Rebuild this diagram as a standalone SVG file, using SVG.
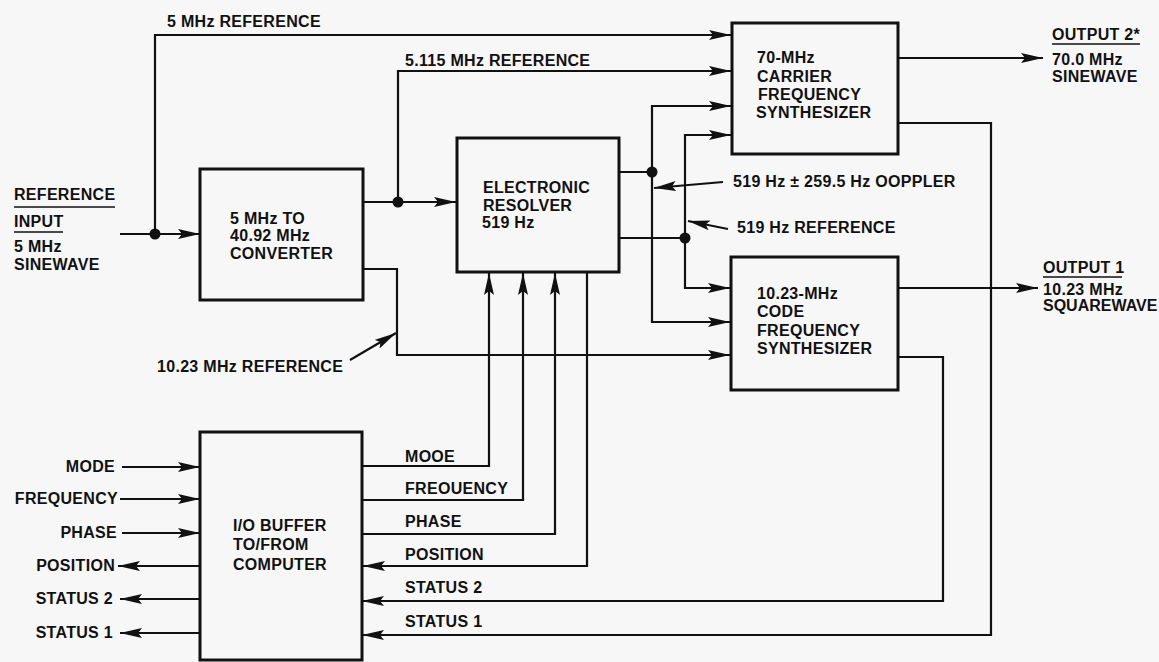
<svg xmlns="http://www.w3.org/2000/svg" width="1159" height="662" viewBox="0 0 1159 662">
<defs>
<style>
.bg{fill:#f7f7f7}
.box{fill:none;stroke:#111;stroke-width:3}
.c{fill:none;stroke:#111;stroke-width:2.2;marker-end:url(#ah)}
.n{fill:none;stroke:#111;stroke-width:2.2}
.dot{fill:#111}
text{font-family:"Liberation Sans",Arial,Helvetica,sans-serif;font-weight:bold;font-size:16px;fill:#111;letter-spacing:0.3px}
.ul{stroke:#111;stroke-width:1.5}
</style>
<marker id="ah" markerUnits="userSpaceOnUse" markerWidth="24" markerHeight="12" refX="22" refY="5" orient="auto">
<path d="M0,0 L22,5 L0,10 L4,5 Z" fill="#111"/>
</marker>
</defs>
<rect class="bg" x="0" y="0" width="1159" height="662"/>

<g id="converter">
<rect class="box" x="200" y="169" width="163" height="131"/>
<text x="230" y="224">5 MHz TO</text>
<text x="230" y="241">40.92 MHz</text>
<text x="230" y="259">CONVERTER</text>
</g>

<g id="resolver">
<rect class="box" x="457" y="138" width="162" height="134"/>
<text x="483" y="193">ELECTRONIC</text>
<text x="483" y="211">RESOLVER</text>
<text x="482" y="228">519 Hz</text>
</g>

<g id="carrier-synth">
<rect class="box" x="732" y="23" width="166" height="131"/>
<text x="757" y="63">70-MHz</text>
<text x="757" y="82">CARRIER</text>
<text x="758" y="100">FREQUENCY</text>
<text x="756" y="118">SYNTHESIZER</text>
</g>

<g id="code-synth">
<rect class="box" x="731" y="257" width="167" height="133"/>
<text x="757" y="299">10.23-MHz</text>
<text x="757" y="317">CODE</text>
<text x="757" y="336">FREQUENCY</text>
<text x="757" y="354">SYNTHESIZER</text>
</g>

<g id="io-buffer">
<rect class="box" x="200" y="432" width="162" height="228"/>
<text x="233" y="531">I/O BUFFER</text>
<text x="233" y="550">TO/FROM</text>
<text x="233" y="570">COMPUTER</text>
</g>

<g id="reference-input">
<text x="14" y="200">REFERENCE</text>
<line class="ul" x1="14" y1="207" x2="115" y2="207"/>
<text x="14" y="227">INPUT</text>
<line class="ul" x1="14" y1="232" x2="63" y2="232"/>
<text x="14" y="252">5 MHz</text>
<text x="14" y="270">SINEWAVE</text>
</g>

<g id="output-2">
<text x="1052" y="40">OUTPUT 2*</text>
<line class="ul" x1="1052" y1="44" x2="1140" y2="44"/>
<text x="1052" y="65">70.0 MHz</text>
<text x="1052" y="82">SINEWAVE</text>
</g>

<g id="output-1">
<text x="1043" y="273">OUTPUT 1</text>
<line class="ul" x1="1043" y1="277" x2="1122" y2="277"/>
<text x="1043" y="295">10.23 MHz</text>
<text x="1043" y="311" style="letter-spacing:0">SQUAREWAVE</text>
</g>

<g id="connectors">
<path class="c" d="M120,234 H200"/>
<path class="c" d="M155,234 V35 H731"/>
<path class="c" d="M363,202 H456"/>
<path class="c" d="M398,202 V71 H731"/>
<path class="n" d="M619,172 H652"/>
<path class="c" d="M652,172 V106 H731"/>
<path class="c" d="M652,172 V322 H730"/>
<path class="n" d="M619,238 H685"/>
<path class="c" d="M685,238 V135 H731"/>
<path class="c" d="M685,238 V288 H730"/>
<path class="c" d="M363,269 H397 V355 H730"/>
<path class="c" d="M898,58 H1043"/>
<path class="c" d="M898,288 H1038"/>
<path class="c" d="M898,123 H991 V635 H362"/>
<path class="c" d="M898,357 H943 V601 H362"/>
<path class="c" d="M362,466 H489 V273"/>
<path class="c" d="M362,500 H523 V273"/>
<path class="c" d="M362,534 H555 V273"/>
<path class="c" d="M587,272 V566 H363"/>
<path class="c" d="M122,467 H200"/>
<path class="c" d="M120,499 H200"/>
<path class="c" d="M122,533 H200"/>
<path class="c" d="M200,566 H118"/>
<path class="c" d="M200,599 H120"/>
<path class="c" d="M200,633 H120"/>
<path class="c" d="M723,182 L654,188"/>
<path class="c" d="M728,229 L688,221"/>
<path class="c" d="M350,360 L396,333"/>
<circle class="dot" cx="155" cy="234" r="5.5"/>
<circle class="dot" cx="398" cy="202" r="5.5"/>
<circle class="dot" cx="652" cy="172" r="5.5"/>
<circle class="dot" cx="685" cy="238" r="5.5"/>
</g>

<g id="labels">
<text x="167" y="27">5 MHz REFERENCE</text>
<text x="405" y="66">5.115 MHz REFERENCE</text>
<text x="733" y="187">519 Hz ± 259.5 Hz OOPPLER</text>
<text x="737" y="233">519 Hz REFERENCE</text>
<text x="157" y="372">10.23 MHz REFERENCE</text>
<text x="115" y="472" text-anchor="end">MODE</text>
<text x="118" y="504" text-anchor="end">FREQUENCY</text>
<text x="117" y="538" text-anchor="end">PHASE</text>
<text x="115" y="571" text-anchor="end">POSITION</text>
<text x="113" y="604" text-anchor="end">STATUS 2</text>
<text x="113" y="638" text-anchor="end">STATUS 1</text>
<text x="405" y="462">MOOE</text>
<text x="405" y="494">FREOUENCY</text>
<text x="405" y="527">PHASE</text>
<text x="405" y="560">POSITION</text>
<text x="405" y="593">STATUS 2</text>
<text x="405" y="627">STATUS 1</text>
</g>
</svg>
